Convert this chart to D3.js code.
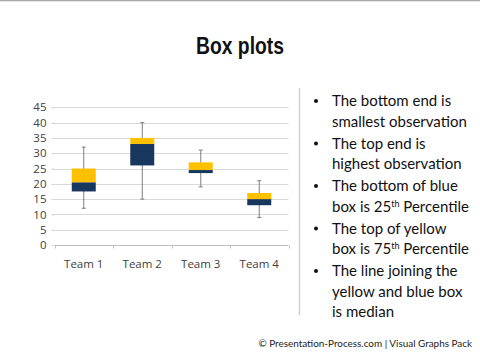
<!DOCTYPE html>
<html lang="en">
<head>
<meta charset="utf-8">
<title>Box plots</title>
<script src="https://cdn.jsdelivr.net/npm/d3@7"></script>
<style>
  body { margin: 0; background: #fff; }
  svg { display: block; }
  .tick text { font-family: "Open Sans", sans-serif; font-size: 11px; fill: #404040; }
</style>
</head>
<body>
<script>
// chart data
var teams   = ["Team 1", "Team 2", "Team 3", "Team 4"];
var mins    = [12, 15, 19, 9];
var q1s     = [17.5, 26, 23.5, 13];
var medians = [20.5, 33, 24.5, 15];
var q3s     = [25, 35, 27, 17];
var maxs    = [32, 40, 31, 21];
var yTicks  = [0, 5, 10, 15, 20, 25, 30, 35, 40, 45];

// bullet notes: one array per line, [text, superscript, rest]
var notes = [
  [["The bottom end is"], ["smallest observation"]],
  [["The top end is"], ["highest observation"]],
  [["The bottom of blue"], ["box is 25", "th", " Percentile"]],
  [["The top of yellow"], ["box is 75", "th", " Percentile"]],
  [["The line joining the"], ["yellow and blue box"], ["is median"]]
];

var w = 480, h = 361;
var svg = d3.select("body").append("svg").attr("width", w).attr("height", h);

// top border line
svg.append("line").attr("x1", 0).attr("x2", w).attr("y1", 0.5).attr("y2", 0.5)
   .style("stroke", "#a6a6a6").style("stroke-width", 1.5);

// title (condensed look)
svg.append("text").attr("x", 196).attr("y", 54)
   .attr("textLength", 88).attr("lengthAdjust", "spacingAndGlyphs")
   .style("font-family", "'Liberation Sans', Arial, sans-serif")
   .style("font-weight", "bold").style("font-size", "24px").style("fill", "#111")
   .text("Box plots");

// scales
var x = d3.scaleBand().domain(teams).range([54.5, 288.5]);
var y = d3.scaleLinear().domain([0, 45]).range([245, 107.3]);
var boxW = 24;

// gridlines
svg.append("g").selectAll("line").data(yTicks.slice(1)).enter().append("line")
   .attr("x1", 51.5).attr("x2", 288.5)
   .attr("y1", function(d) { return Math.round(y(d)) + 0.5; })
   .attr("y2", function(d) { return Math.round(y(d)) + 0.5; })
   .style("stroke", "#d9d9d9");

// y axis (labels + small ticks, no domain line)
var yAxis = svg.append("g").attr("transform", "translate(54.5,0)")
   .call(d3.axisLeft(y).tickValues(yTicks).tickSize(3).tickPadding(5));
yAxis.select(".domain").remove();
yAxis.selectAll(".tick line").style("stroke", "#d9d9d9");
yAxis.selectAll(".tick text").style("font-size", "11.5px");

// x axis
var xAxis = svg.append("g").attr("transform", "translate(0," + (Math.round(y(0)) + 0.5) + ")")
   .call(d3.axisBottom(x).tickSize(0).tickPadding(14));
xAxis.select(".domain").attr("d", "M54.5,0H288.5").style("stroke", "#bfbfbf");
xAxis.selectAll(".tick text").style("font-size", "11.5px");
xAxis.append("g").selectAll("line")
   .data([0, 1, 2, 3, 4]).enter().append("line")
   .attr("x1", function(i) { return Math.round(x.range()[0] + i * x.step()) + 0.5; })
   .attr("x2", function(i) { return Math.round(x.range()[0] + i * x.step()) + 0.5; })
   .attr("y1", 0).attr("y2", 3).style("stroke", "#bfbfbf");

// boxes
var g = svg.append("g").selectAll("g").data(teams).enter().append("g");
var cx = function(d) { return x(d) + x.bandwidth() / 2; };

g.append("line")
 .attr("x1", function(d) { return cx(d); }).attr("x2", function(d) { return cx(d); })
 .attr("y1", function(d, i) { return y(mins[i]); })
 .attr("y2", function(d, i) { return y(maxs[i]); })
 .style("stroke", "#7f7f7f");
g.append("line")
 .attr("x1", function(d) { return cx(d) - 2; }).attr("x2", function(d) { return cx(d) + 2; })
 .attr("y1", function(d, i) { return y(maxs[i]); }).attr("y2", function(d, i) { return y(maxs[i]); })
 .style("stroke", "#7f7f7f");
g.append("line")
 .attr("x1", function(d) { return cx(d) - 2; }).attr("x2", function(d) { return cx(d) + 2; })
 .attr("y1", function(d, i) { return y(mins[i]); }).attr("y2", function(d, i) { return y(mins[i]); })
 .style("stroke", "#7f7f7f");

// blue: q1 to median
g.append("rect")
 .attr("x", function(d) { return cx(d) - boxW / 2; }).attr("width", boxW)
 .attr("y", function(d, i) { return y(medians[i]); })
 .attr("height", function(d, i) { return y(q1s[i]) - y(medians[i]); })
 .style("fill", "#17375e");
// yellow: median to q3
g.append("rect")
 .attr("x", function(d) { return cx(d) - boxW / 2; }).attr("width", boxW)
 .attr("y", function(d, i) { return y(q3s[i]); })
 .attr("height", function(d, i) { return y(medians[i]) - y(q3s[i]); })
 .style("fill", "#ffc000");

// separator
svg.append("line").attr("x1", 299.5).attr("x2", 299.5).attr("y1", 88).attr("y2", 315)
   .style("stroke", "#d0d0d0").style("stroke-width", 1.5);

// bullet notes
var notesG = svg.append("g")
   .style("font-family", "Lato, 'Open Sans', sans-serif")
   .style("font-size", "15px").style("fill", "#111");
var lineY = 106;
notes.forEach(function(note) {
  notesG.append("circle").attr("cx", 316).attr("cy", lineY - 5).attr("r", 2).style("fill", "#111");
  note.forEach(function(parts) {
    var t = notesG.append("text").attr("x", 332).attr("y", lineY);
    t.append("tspan").text(parts[0]);
    if (parts.length > 1) {
      t.append("tspan").attr("dy", -5).style("font-size", "9px").text(parts[1]);
      t.append("tspan").attr("dy", 5).text(parts[2]);
    }
    lineY += 20.5;
  });
  lineY += 1.5;
});

// footer: shrink font so it spans about 214px like the original
var footer = svg.append("text").attr("x", 472).attr("y", 347).attr("text-anchor", "end")
   .style("font-family", "Lato, 'Open Sans', sans-serif").style("font-size", "12px").style("fill", "#222")
   .text("\u00a9 Presentation-Process.com | Visual Graphs Pack");
var fw = footer.node().getComputedTextLength();
footer.style("font-size", Math.min(12, 12 * 214 / fw) + "px");
</script>
</body>
</html>
